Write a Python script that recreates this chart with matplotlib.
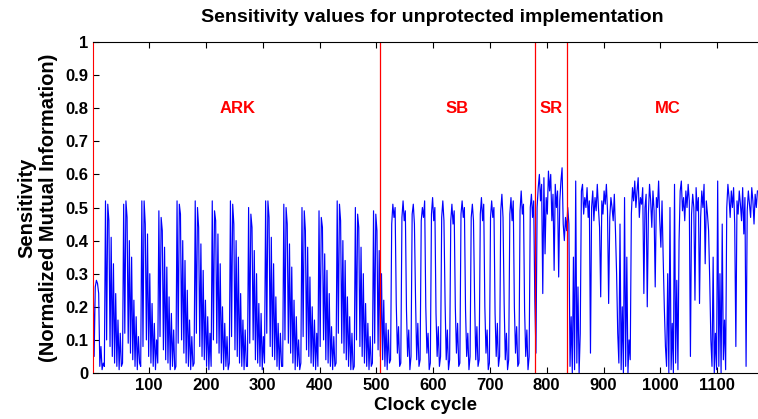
import numpy as np
import matplotlib
matplotlib.use("Agg")
import matplotlib.pyplot as plt

plt.rcParams["font.family"] = ["Liberation Sans", "DejaVu Sans"]
plt.rcParams["font.weight"] = "bold"

# sensitivity trace, one value every 2 clock cycles (1, 3, 5, ...)
# ARK: cycles 1..507
ark = [
    0.33, 0.05, 0.26, 0.28, 0.27, 0.24, 0.02, 0.08, 0.01, 0.03,
    0.02, 0.52, 0.10, 0.51, 0.46, 0.08, 0.41, 0.05, 0.33, 0.03, 0.24, 0.02, 0.16, 0.01, 0.12, 0.02,
    0.03, 0.51, 0.12, 0.52, 0.47, 0.09, 0.40, 0.06, 0.35, 0.04, 0.22, 0.02, 0.17, 0.01, 0.11, 0.03,
    0.02, 0.52, 0.08, 0.52, 0.45, 0.10, 0.42, 0.05, 0.30, 0.03, 0.21, 0.02, 0.15, 0.01, 0.10,
    0.03, 0.49, 0.11, 0.47, 0.43, 0.07, 0.38, 0.04, 0.32, 0.03, 0.23, 0.01, 0.18, 0.02, 0.13, 0.01,
    0.02, 0.52, 0.09, 0.51, 0.48, 0.10, 0.40, 0.06, 0.34, 0.03, 0.25, 0.02, 0.16, 0.01, 0.11, 0.02,
    0.03, 0.52, 0.12, 0.50, 0.44, 0.08, 0.39, 0.05, 0.31, 0.04, 0.22, 0.02, 0.17, 0.01, 0.12,
    0.02, 0.52, 0.10, 0.49, 0.46, 0.09, 0.42, 0.06, 0.33, 0.03, 0.20, 0.01, 0.15, 0.02, 0.11, 0.01,
    0.03, 0.52, 0.11, 0.51, 0.45, 0.07, 0.40, 0.05, 0.35, 0.03, 0.24, 0.02, 0.16, 0.01, 0.13, 0.02,
    0.02, 0.50, 0.09, 0.48, 0.44, 0.10, 0.37, 0.04, 0.30, 0.03, 0.21, 0.02, 0.18, 0.01, 0.11,
    0.03, 0.52, 0.12, 0.52, 0.47, 0.08, 0.41, 0.05, 0.33, 0.04, 0.23, 0.02, 0.15, 0.01, 0.12, 0.02,
    0.02, 0.51, 0.10, 0.50, 0.45, 0.09, 0.39, 0.06, 0.32, 0.03, 0.22, 0.01, 0.17, 0.02, 0.10, 0.01,
    0.03, 0.50, 0.11, 0.49, 0.43, 0.07, 0.38, 0.05, 0.29, 0.03, 0.20, 0.02, 0.16, 0.01, 0.12,
    0.02, 0.49, 0.08, 0.47, 0.44, 0.10, 0.36, 0.04, 0.31, 0.03, 0.24, 0.02, 0.14, 0.01, 0.11, 0.02,
    0.03, 0.52, 0.12, 0.51, 0.46, 0.09, 0.40, 0.06, 0.34, 0.04, 0.23, 0.02, 0.17, 0.01, 0.12, 0.01,
    0.02, 0.50, 0.10, 0.48, 0.44, 0.08, 0.38, 0.05, 0.30, 0.03, 0.21, 0.02, 0.15, 0.01, 0.11, 0.02,
    0.03, 0.49, 0.09, 0.48, 0.43, 0.07, 0.37, 0.05,
]

# SB: cycles 509..779
sb = [
    0.30, 0.04, 0.22, 0.02, 0.15, 0.01, 0.13, 0.03,
    0.04, 0.45, 0.51, 0.47, 0.50, 0.21, 0.06, 0.14, 0.02,
    0.03, 0.47, 0.52, 0.46, 0.49, 0.19, 0.05, 0.13, 0.01,
    0.05, 0.48, 0.51, 0.45, 0.22, 0.04, 0.15, 0.02,
    0.04, 0.46, 0.50, 0.47, 0.52, 0.20, 0.06, 0.12, 0.01,
    0.03, 0.48, 0.53, 0.46, 0.50, 0.18, 0.05, 0.14, 0.02,
    0.05, 0.47, 0.52, 0.46, 0.21, 0.04, 0.13, 0.01,
    0.04, 0.46, 0.51, 0.45, 0.49, 0.20, 0.06, 0.15, 0.02,
    0.03, 0.48, 0.52, 0.47, 0.50, 0.19, 0.05, 0.12, 0.01,
    0.05, 0.47, 0.51, 0.46, 0.22, 0.04, 0.14, 0.02,
    0.04, 0.48, 0.53, 0.46, 0.51, 0.20, 0.06, 0.13, 0.01,
    0.03, 0.47, 0.52, 0.47, 0.50, 0.18, 0.05, 0.15, 0.02,
    0.05, 0.49, 0.54, 0.47, 0.21, 0.04, 0.12, 0.01,
    0.04, 0.48, 0.53, 0.46, 0.52, 0.20, 0.06, 0.14, 0.02,
    0.03, 0.49, 0.55, 0.48, 0.51, 0.19, 0.05, 0.13, 0.01,
    0.05, 0.50, 0.54, 0.47, 0.52, 0.22,
]

# SR: cycles 781..835
sr = [
    0.06, 0.50, 0.56, 0.60, 0.52, 0.57, 0.24, 0.59, 0.36, 0.53,
    0.48, 0.61, 0.55, 0.60, 0.46, 0.54, 0.31, 0.57, 0.50, 0.55,
    0.29, 0.52, 0.58, 0.62, 0.45, 0.40, 0.47, 0.43,
]

# MC: cycles 837..1171
mc = [
    0.50, 0.45, 0.02, 0.17, 0.00, 0.35, 0.01, 0.58, 0.03, 0.26,
    0.00, 0.12, 0.55, 0.57, 0.48, 0.53, 0.50, 0.56, 0.47, 0.52,
    0.06, 0.50, 0.55, 0.46, 0.53, 0.49, 0.57, 0.50, 0.44, 0.23,
    0.52, 0.48, 0.55, 0.51, 0.57, 0.49, 0.21, 0.47, 0.53, 0.50,
    0.46, 0.54, 0.43, 0.30, 0.12, 0.03, 0.45, 0.01, 0.20, 0.00,
    0.53, 0.02, 0.35, 0.00, 0.10, 0.04, 0.48, 0.56, 0.52, 0.58,
    0.50, 0.55, 0.59, 0.47, 0.53, 0.51, 0.56, 0.24, 0.50, 0.54,
    0.20, 0.48, 0.57, 0.52, 0.44, 0.55, 0.49, 0.26, 0.53, 0.50,
    0.58, 0.46, 0.38, 0.52, 0.35, 0.20, 0.08, 0.02, 0.30, 0.00,
    0.50, 0.01, 0.15, 0.00, 0.57, 0.03, 0.28, 0.01, 0.40, 0.55,
    0.58, 0.49, 0.53, 0.46, 0.55, 0.50, 0.57, 0.52, 0.05, 0.48,
    0.54, 0.50, 0.22, 0.56, 0.49, 0.53, 0.21, 0.47, 0.55, 0.50,
    0.57, 0.33, 0.52, 0.48, 0.43, 0.28, 0.10, 0.02, 0.35, 0.00,
    0.12, 0.01, 0.58, 0.02, 0.30, 0.00, 0.45, 0.04, 0.16, 0.01,
    0.50, 0.57, 0.53, 0.47, 0.55, 0.50, 0.56, 0.45, 0.08, 0.52,
    0.48, 0.55, 0.51, 0.46, 0.56, 0.42, 0.53, 0.02, 0.49, 0.55,
    0.51, 0.47, 0.56, 0.52, 0.45, 0.54, 0.50, 0.55,
]

boundaries = [507, 779, 835]
region_names = ["ARK", "SB", "SR", "MC"]
region_label_x = [256, 643, 807, 1013]

values = np.array(ark + sb + sr + mc)
cycles = 1 + 2 * np.arange(len(values))

fig = plt.figure(figsize=(7.58, 4.19), dpi=100)
ax = fig.add_axes([93 / 758, 46 / 419, 665 / 758, 331 / 419])

ax.plot(cycles, values, color="#0000ff", lw=0.85)
for b in boundaries:
    ax.axvline(b, color="#ff0000", lw=0.9)
for name, xl in zip(region_names, region_label_x):
    ax.text(xl, 0.8, name, color="#ff0000", fontsize=12, fontweight="bold",
            ha="center", va="center")

ax.set_xlim(1, 1172)
ax.set_ylim(0, 1)
ax.set_xticks(range(100, 1200, 100))
ax.set_yticks(np.arange(0, 1.01, 0.1))
ax.set_yticklabels(["0", "0.1", "0.2", "0.3", "0.4", "0.5", "0.6", "0.7",
                    "0.8", "0.9", "1"])
ax.tick_params(direction="in", top=True, labelsize=12, length=4, width=0.8)
ax.spines["right"].set_visible(False)
ax.spines["left"].set_color("#ff0000")
for s in ["top", "bottom"]:
    ax.spines[s].set_linewidth(0.8)

ax.set_xlabel("Clock cycle", fontsize=13.5, fontweight="bold", labelpad=3)
ax.set_ylabel("Sensitivity\n(Normalized Mutual Information)", fontsize=14.5,
              fontweight="bold", labelpad=5)
fig.text(432 / 758, 1 - 18 / 419, "Sensitivity values for unprotected implementation",
         ha="center", va="center", fontsize=14, fontweight="bold")

fig.savefig("out.png", dpi=100)
